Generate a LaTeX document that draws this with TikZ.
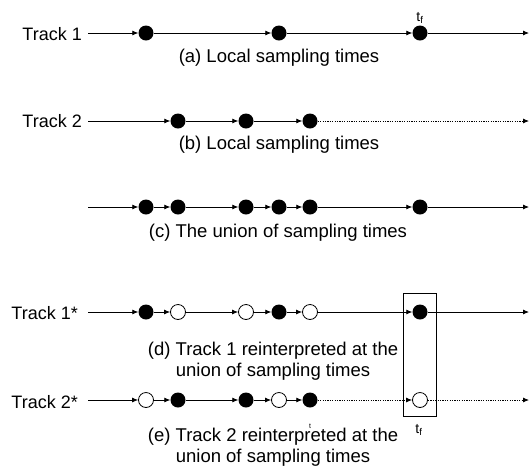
\documentclass[tikz,border=0pt]{standalone}
\usepackage{fontspec}
\setmainfont{Liberation Sans}
\usetikzlibrary{arrows.meta}
\tikzset{
  full/.style={circle, fill=black, minimum size=15pt, inner sep=0pt},
  hollow/.style={circle, draw=black, fill=white, line width=0.8pt, minimum size=15pt, inner sep=0pt},
  seg/.style={draw, line width=0.8pt, -{Latex[length=6pt,width=5pt]}},
  dseg/.style={seg, dash pattern=on 1.2pt off 1.2pt},
  track/.style={anchor=base east, inner sep=0pt, font=\fontsize{18}{21}\selectfont},
  caption/.style={anchor=base, inner sep=0pt, align=center, font=\fontsize{18.5}{21}\selectfont},
  tlabel/.style={anchor=base, inner sep=0pt, font=\fontsize{14}{14}\selectfont},
}
\newcommand{\tf}{t\textsubscript{f}}
\begin{document}
\begin{tikzpicture}[x=1pt, y=-1pt]
\useasboundingbox (0,0) rectangle (531,467);

% (a) Track 1, local sampling times
\node[track] (l1) at (82,40) {Track 1};
\coordinate (s1) at (88,33);
\coordinate (e1) at (529,33);
\node[full] (a1) at (146,33) {};
\node[full] (a2) at (279,33) {};
\node[full] (a3) at (420,33) {};
\draw[seg] (s1) -- (a1);
\draw[seg] (a1) -- (a2);
\draw[seg] (a2) -- (a3);
\draw[seg] (a3) -- (e1);
\node[tlabel] (ta) at (420,21) {\tf};
\node[caption] (ca) at (279,62) {(a) Local sampling times};

% (b) Track 2, local sampling times
\node[track] (l2) at (82,127) {Track 2};
\coordinate (s2) at (88,121);
\coordinate (e2) at (529,121);
\node[full] (b1) at (178,121) {};
\node[full] (b2) at (246,121) {};
\node[full] (b3) at (310,121) {};
\draw[seg] (s2) -- (b1);
\draw[seg] (b1) -- (b2);
\draw[seg] (b2) -- (b3);
\draw[dseg] (b3) -- (e2);
\node[caption] (cb) at (279,149) {(b) Local sampling times};

% (c) union of sampling times
\coordinate (s3) at (88,207);
\coordinate (e3) at (529,207);
\node[full] (c1) at (146,207) {};
\node[full] (c2) at (178,207) {};
\node[full] (c3) at (246,207) {};
\node[full] (c4) at (279,207) {};
\node[full] (c5) at (310,207) {};
\node[full] (c6) at (420,207) {};
\draw[seg] (s3) -- (c1);
\draw[seg] (c1) -- (c2);
\draw[seg] (c2) -- (c3);
\draw[seg] (c3) -- (c4);
\draw[seg] (c4) -- (c5);
\draw[seg] (c5) -- (c6);
\draw[seg] (c6) -- (e3);
\node[caption] (cc) at (278,237) {(c) The union of sampling times};

% (d) Track 1 at the union of sampling times
\node[track] (l4) at (78,319) {Track 1*};
\coordinate (s4) at (88,312);
\coordinate (e4) at (529,312);
\node[full]   (d1) at (146,312) {};
\node[hollow] (d2) at (178,312) {};
\node[hollow] (d3) at (246,312) {};
\node[full]   (d4) at (279,312) {};
\node[hollow] (d5) at (310,312) {};
\node[full]   (d6) at (420,312) {};
\draw[seg] (s4) -- (d1);
\draw[seg] (d1) -- (d2);
\draw[seg] (d2) -- (d3);
\draw[seg] (d3) -- (d4);
\draw[seg] (d4) -- (d5);
\draw[seg] (d5) -- (d6);
\draw[seg] (d6) -- (e4);
% the base anchor of a two-line caption sits on its last line
\node[caption] (cd) at (273,376) {(d) Track 1 reinterpreted at the\\union of sampling times};

% (e) Track 2 at the union of sampling times
\node[track] (l5) at (78,408) {Track 2*};
\coordinate (s5) at (88,400);
\coordinate (e5) at (529,400);
\node[hollow] (f1) at (146,400) {};
\node[full]   (f2) at (178,400) {};
\node[full]   (f3) at (246,400) {};
\node[hollow] (f4) at (279,400) {};
\node[full]   (f5) at (310,400) {};
\node[hollow] (f6) at (420,400) {};
\draw[seg] (s5) -- (f1);
\draw[seg] (f1) -- (f2);
\draw[seg] (f2) -- (f3);
\draw[seg] (f3) -- (f4);
\draw[seg] (f4) -- (f5);
\draw[dseg] (f5) -- (f6);
\draw[dseg] (f6) -- (e5);
\node[caption] (ce) at (273,462) {(e) Track 2 reinterpreted at the\\union of sampling times};
\node[tlabel, font=\fontsize{7}{7}\selectfont] (tsmall) at (310,428) {t};

% window around the final time
\node[draw, line width=0.8pt, minimum width=33pt, minimum height=123pt, inner sep=0pt] (win) at (419.5,354.5) {};
\node[tlabel] (tb) at (419,433) {\tf};
\end{tikzpicture}
\end{document}
